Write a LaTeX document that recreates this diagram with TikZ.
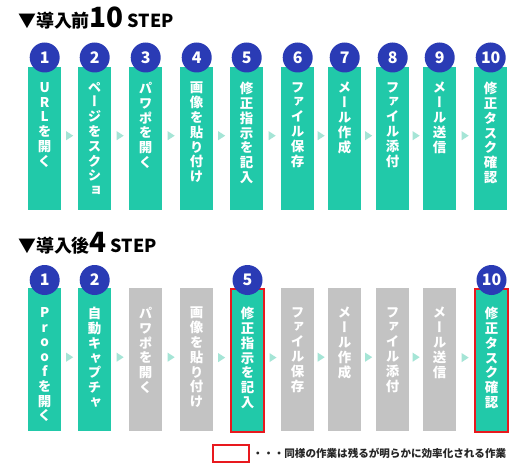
\documentclass[tikz,border=0pt]{standalone}
\usepackage{fontspec}
\newfontfamily\jpfont{Noto Sans CJK JP}
\newfontfamily\tatefont{Noto Sans CJK JP}[RawFeature=+vert]
\usetikzlibrary{calc}
\definecolor{stepgreen}{HTML}{21C9A9}
\definecolor{stepgray}{HTML}{C3C3C3}
\definecolor{numblue}{HTML}{2A3BB5}
\definecolor{tripale}{HTML}{A5E5D6}
\definecolor{markred}{HTML}{E8191E}
% one character per line, for the upright column texts
\newcommand\tate[1]{\vbox{\baselineskip=14.8bp\lineskiplimit=-20bp\lineskip=0bp\expandafter\tatechar#1\relax}}
\def\tatechar#1{\ifx\relax#1\else\hbox to 16bp{\hss#1\hss}\expandafter\tatechar\fi}
\tikzset{
  stepbox/.style={rectangle, fill=stepgreen, minimum width=33bp, minimum height=143bp, inner sep=0pt, anchor=north west},
  graybox/.style={stepbox, fill=stepgray},
  markbox/.style={stepbox, draw=markred, line width=2bp},
  numball/.style={circle, fill=numblue, minimum size=30bp, inner sep=0pt, text=white, font=\jpfont\bfseries\fontsize{16}{16}\selectfont},
  steptext/.style={anchor=north, text=white, inner sep=0pt, font=\tatefont\bfseries\fontsize{13.5}{14.8}\selectfont},
  headline/.style={anchor=base west, inner sep=0pt, font=\jpfont\bfseries\fontsize{18}{18}\selectfont},
  nexttri/.style={fill=tripale}
}
\begin{document}
\begin{tikzpicture}[x=1bp,y=-1bp]
\fill[white] (0,0) rectangle (529,465);
\useasboundingbox (0,0) rectangle (529,465);
\def\yA{67}
\def\yB{288}
% before: 10 steps
\node[headline] (headA) at (18,28) {▼導入前{\fontsize{28}{28}\selectfont 10}\hspace{4bp}STEP};
\foreach \i/\x/\txt in {1/28/URLを開く, 2/78/ページをスクショ, 3/129/パワポを開く, 4/180/画像を貼り付け, 5/230/修正指示を記入, 6/281/ファイル保存, 7/328/メール作成, 8/376/ファイル添付, 9/423/メール送信, 10/474/修正タスク確認} {
  \node[stepbox] (a\i) at (\x,\yA) {};
  \node[numball] (na\i) at ($(a\i.north)+(0,-9.5)$) {\i};
  \node[steptext] (ta\i) at ($(a\i.north)+(0,15)$) {\tate{\txt}};
}
\foreach \i in {1,...,9} {
  \pgfmathtruncatemacro\j{\i+1}
  \fill[nexttri] ($(a\i.east)!.5!(a\j.west)+(0,-3)$) +(-3.5,-4.5) -- +(3.5,0) -- +(-3.5,4.5) -- cycle;
}
% after: 4 steps
\node[headline] (headB) at (18,253) {▼導入後{\fontsize{28}{28}\selectfont 4}\hspace{4bp}STEP};
\foreach \i/\x/\kind/\txt in {1/28/stepbox/Proofを開く, 2/78/stepbox/自動キャプチャ, 3/129/graybox/パワポを開く, 4/180/graybox/画像を貼り付け, 5/230/markbox/修正指示を記入, 6/281/graybox/ファイル保存, 7/328/graybox/メール作成, 8/376/graybox/ファイル添付, 9/423/graybox/メール送信, 10/474/markbox/修正タスク確認} {
  \node[\kind] (b\i) at (\x,\yB) {};
  \node[steptext] (tb\i) at ($(b\i.north)+(0,19)$) {\tate{\txt}};
}
\foreach \i in {1,2,5,10}
  \node[numball] (nb\i) at ($(b\i.north)+(0,-8)$) {\i};
\foreach \i in {1,...,9} {
  \pgfmathtruncatemacro\j{\i+1}
  \fill[nexttri] ($(b\i.east)!.5!(b\j.west)+(0,-2.5)$) +(-3.5,-4.5) -- +(3.5,0) -- +(-3.5,4.5) -- cycle;
}
% legend
\node[draw=markred, line width=2bp, minimum width=36bp, minimum height=17bp, inner sep=0pt] (legbox) at (230.5,453) {};
\node[anchor=west, inner sep=0pt, text=black!85, font=\jpfont\bfseries\fontsize{10.6}{10.6}\selectfont] (legtext) at ($(legbox.east)+(3,0)$) {・・・同様の作業は残るが明らかに効率化される作業};
\end{tikzpicture}
\end{document}
